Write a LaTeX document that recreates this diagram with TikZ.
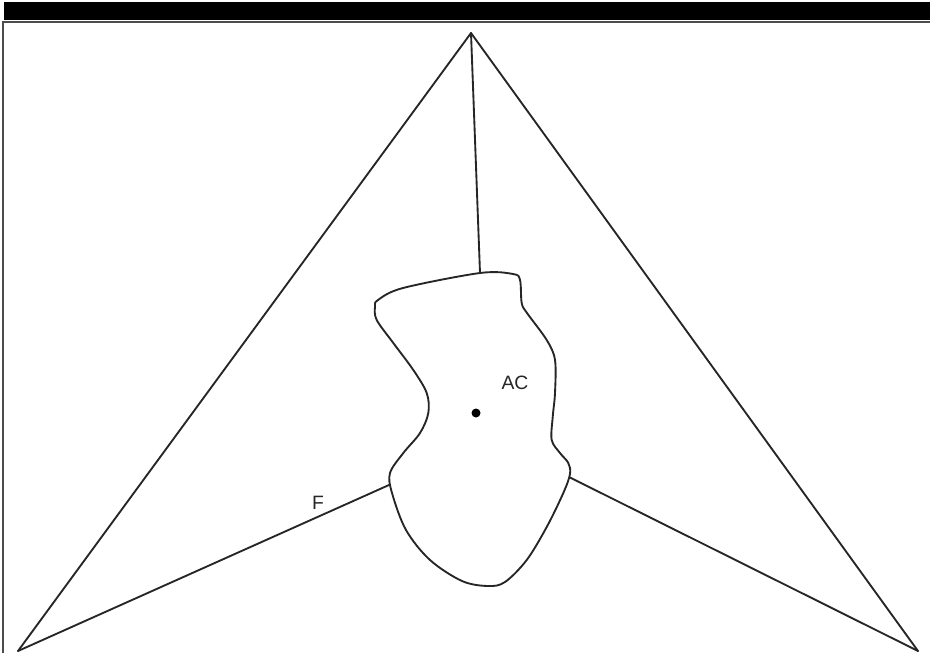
\documentclass[tikz,border=0pt]{standalone}
\usepackage{fontspec}
\setmainfont{Liberation Sans}
\begin{document}
\begin{tikzpicture}[x=0.75pt,y=-0.75pt,
  edge/.style={draw=black!85,line width=1.4pt,line cap=round,line join=round},
  lbl/.style={font=\fontsize{14.5pt}{16pt}\selectfont,text=black!85,inner sep=0pt}]
\useasboundingbox (0,0) rectangle (930,653);
% illegible overlapping title band
\fill[black] (4,2) rectangle (930,20);
\draw[black!70,line width=1pt] (3,653) -- (3,22) -- (930,22);
% vertices
\coordinate (T) at (471,33);
\coordinate (BL) at (18,651);
\coordinate (BR) at (918,651);
\coordinate (Ctop) at (480,273);
\coordinate (Cleft) at (389,485);
\coordinate (Cright) at (569,477);
\draw[edge] (BL) -- (T) -- (BR);
\draw[edge] (T) -- (Ctop);
\draw[edge] (BL) -- (Cleft);
\draw[edge] (BR) -- (Cright);
% region AC
\draw[edge,fill=white] plot[smooth cycle,tension=0.55] coordinates {
 (378,300) (403,288) (480,273) (513,274) (520,280) (521.7,303) (527,313)
 (546.7,340) (555,360) (555,393) (552.7,417) (551.7,440) (560,453)
 (568.3,463) (570,474) (563.3,493) (546.7,527) (526.7,560) (505,582)
 (488,586) (462,581) (430,560) (406,530) (392,493) (390,473)
 (403.3,453) (420,433) (428.3,413) (426.7,393) (413.3,370) (393.3,343)
 (376.7,320) (375,306.7)};
\fill[black] (476,413) circle (4.5);
\node[lbl] (AC) at (515,383) {AC};
\node[lbl] (F) at (318,503) {F};
\end{tikzpicture}
\end{document}
